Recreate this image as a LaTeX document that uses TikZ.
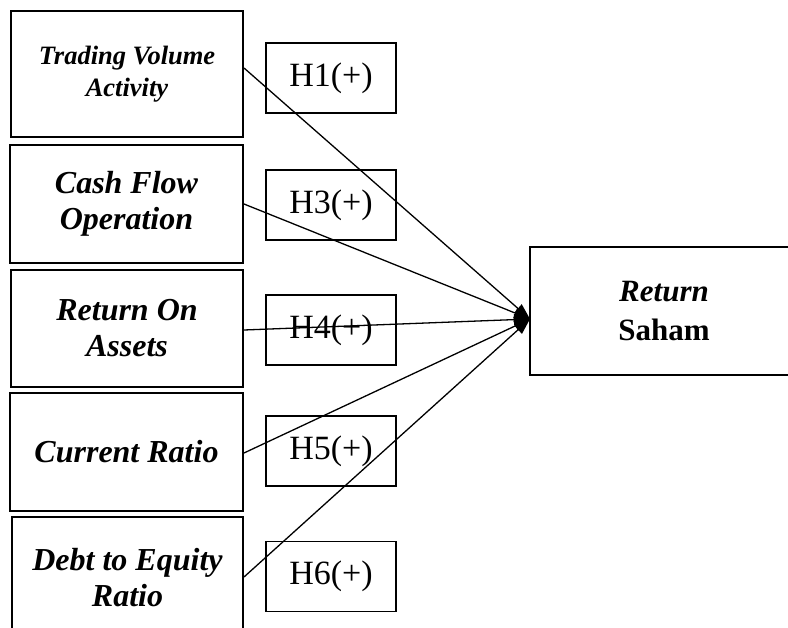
\documentclass[tikz,border=0pt]{standalone}
\usepackage{fontspec}
\setmainfont{Liberation Serif}
\usetikzlibrary{arrows.meta}
\begin{document}
\begin{tikzpicture}[x=1pt,y=-1pt,
  varbox/.style={draw,line width=2pt,inner sep=0pt,align=center,
    font=\fontsize{32}{36}\selectfont\bfseries\itshape},
  hbox/.style={draw,line width=1.3pt,inner sep=0pt,
    font=\fontsize{34}{38}\selectfont},
  link/.style={line width=1.3pt,-{Triangle[length=16pt,width=11pt]}}]
\useasboundingbox (0,0) rectangle (788,628);
\node[varbox,minimum width=232pt,minimum height=126pt,
  font=\fontsize{26.5}{32}\selectfont\bfseries\itshape] (b1) at (127,74) {Trading Volume\\Activity};
\node[varbox,minimum width=233pt,minimum height=118pt] (b2) at (126.5,204) {Cash Flow\\Operation};
\node[varbox,minimum width=232pt,minimum height=117pt] (b3) at (127,328.5) {Return On\\Assets};
\node[varbox,minimum width=233pt,minimum height=118pt] (b4) at (126.5,452) {Current Ratio};
\node[varbox,minimum width=231pt,minimum height=122pt] (b5) at (127.5,578) {Debt to Equity\\Ratio};
\node[hbox,minimum width=130pt,minimum height=70pt] (h1) at (331,78) {H1(+)\hspace{12pt}};
\node[hbox,minimum width=130pt,minimum height=70pt] (h3) at (331,205) {H3(+)\hspace{12pt}};
\node[hbox,minimum width=130pt,minimum height=70pt] (h4) at (331,330) {H4(+)\hspace{12pt}};
\node[hbox,minimum width=130pt,minimum height=70pt] (h5) at (331,451) {H5(+)\hspace{12pt}};
\node[hbox,minimum width=130pt,minimum height=70pt] (h6) at (331,576.5) {H6(+)\hspace{12pt}};
\node[draw,line width=2pt,inner sep=0pt,minimum width=268pt,minimum height=128pt,align=center,
  font=\fontsize{31}{39}\selectfont\bfseries] (rs) at (664,311) {\itshape Return\\Saham};
\coordinate (tgt) at (530,319);
\draw[link] ([yshift=6pt]b1.east) -- (tgt);
\draw[link] (b2.east) -- (tgt);
\draw[link] ([yshift=-1.5pt]b3.east) -- (tgt);
\draw[link] ([yshift=-1pt]b4.east) -- (tgt);
\draw[link] ([yshift=1pt]b5.east) -- (tgt);
\end{tikzpicture}
\end{document}
